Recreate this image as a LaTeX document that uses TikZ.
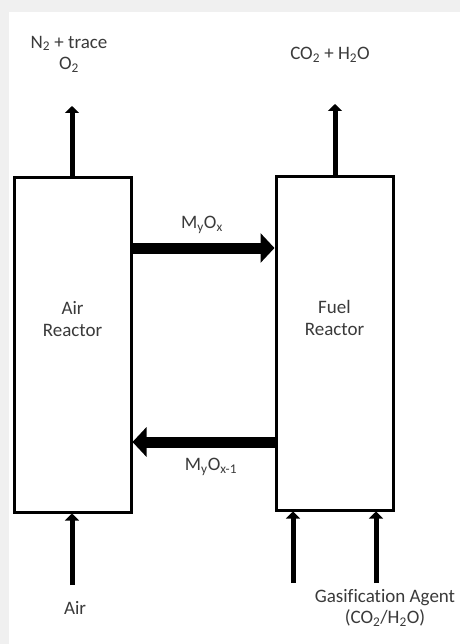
\documentclass[tikz,border=0pt]{standalone}
\usepackage{fontspec}
\setmainfont{Carlito}[Ligatures=NoCommon]
\usetikzlibrary{arrows.meta}
\definecolor{bggray}{HTML}{F0F0F0}
\definecolor{txt}{HTML}{3A3A3A}
\tikzset{
  reactor/.style={draw=black, line width=3pt, fill=white, minimum width=117pt, inner sep=0pt},
  lbl/.style={text=txt, font=\fontsize{19}{21.5}\selectfont, align=center, inner sep=0pt},
  thin flow/.style={line width=5pt, -{Triangle[length=7pt,width=14pt]}},
  thick flow/.style={line width=11pt, -{Triangle[length=14pt,width=29pt]}}
}
\begin{document}
\begin{tikzpicture}[x=1pt, y=-1pt]
\useasboundingbox (0,0) rectangle (460,644);
\fill[bggray] (0,0) rectangle (460,644);
\fill[white] (9,12) rectangle (460,644);
% reactors
\node[reactor, minimum height=334pt] (ar) at (72.5,345) {};
\node[reactor, minimum height=333pt] (fr) at (334.5,343.5) {};
\node[lbl] (arlbl) at (72.5,319) {Air\\Reactor};
\node[lbl] (frlbl) at (334.5,318) {Fuel\\Reactor};
% top outputs
\coordinate (artop) at (72,106);
\coordinate (frtop) at (335,104);
\draw[thin flow] (ar.north -| artop) -- (artop);
\draw[thin flow] (fr.north -| frtop) -- (frtop);
\node[lbl] (n2) at (69,54) {N\textsubscript{2} + trace\\O\textsubscript{2}};
\node[lbl] (co2) at (330,55) {CO\textsubscript{2} + H\textsubscript{2}O};
% bottom inputs
\coordinate (airin) at (72,585);
\coordinate (fin1) at (293,583);
\coordinate (fin2) at (376,583);
\draw[thin flow] (airin) -- (airin |- ar.south);
\draw[thin flow] (fin1) -- (fin1 |- fr.south);
\draw[thin flow] (fin2) -- (fin2 |- fr.south);
\node[lbl] (air) at (75,608) {Air};
\node[lbl] (ga) at (385,608) {Gasification Agent\\(CO\textsubscript{2}/H\textsubscript{2}O)};
% circulation
\coordinate (mh1) at (0,248);
\coordinate (mh2) at (0,442);
\draw[thick flow] (ar.east |- mh1) -- (fr.west |- mh1);
\draw[thick flow] (fr.west |- mh2) -- (ar.east |- mh2);
\node[lbl] (ox) at (202,225) {M\textsubscript{y}O\textsubscript{x}};
\node[lbl] (red) at (211,467) {M\textsubscript{y}O\textsubscript{x-1}};
\end{tikzpicture}
\end{document}
